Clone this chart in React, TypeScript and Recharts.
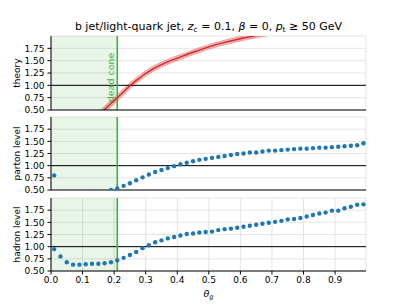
import React from 'react';
import {
  ComposedChart, Line, Area, Scatter, XAxis, YAxis, CartesianGrid,
  ReferenceLine, ReferenceArea,
} from 'recharts';

// ---------- data ----------
const xTicks = [0, 0.1, 0.2, 0.3, 0.4, 0.5, 0.6, 0.7, 0.8, 0.9];
const yTicks = [0.5, 0.75, 1.0, 1.25, 1.5, 1.75];
const deadCone = 0.21;

const theoryTheta = [0.125, 0.15, 0.175, 0.2, 0.225, 0.25, 0.275, 0.3, 0.325, 0.35, 0.375, 0.4, 0.45, 0.5, 0.55, 0.6, 0.65, 0.7];
const theoryValue = [0.22, 0.38, 0.54, 0.69, 0.84, 0.99, 1.12, 1.24, 1.34, 1.42, 1.49, 1.55, 1.67, 1.78, 1.87, 1.945, 2.01, 2.07];
const theoryErr = [0.078, 0.075, 0.072, 0.068, 0.065, 0.062, 0.06, 0.058, 0.056, 0.055, 0.054, 0.053, 0.052, 0.05, 0.05, 0.05, 0.05, 0.05];

const partonTheta = [0.01, 0.19, 0.21, 0.23, 0.25, 0.27, 0.29, 0.31, 0.33, 0.35, 0.37, 0.39, 0.41, 0.43, 0.45, 0.47, 0.49, 0.51, 0.53, 0.55, 0.57, 0.59, 0.61, 0.63, 0.65, 0.67, 0.69, 0.71, 0.73, 0.75, 0.77, 0.79, 0.81, 0.83, 0.85, 0.87, 0.89, 0.91, 0.93, 0.95, 0.97, 0.99];
const partonValue = [0.8, 0.5, 0.53, 0.585, 0.64, 0.7, 0.76, 0.82, 0.87, 0.91, 0.95, 0.99, 1.03, 1.06, 1.09, 1.12, 1.14, 1.16, 1.18, 1.2, 1.22, 1.24, 1.25, 1.27, 1.27, 1.29, 1.31, 1.31, 1.32, 1.33, 1.34, 1.35, 1.35, 1.36, 1.37, 1.37, 1.38, 1.39, 1.4, 1.41, 1.42, 1.46];

const hadronTheta = [0.01, 0.03, 0.05, 0.07, 0.09, 0.11, 0.13, 0.15, 0.17, 0.19, 0.21, 0.23, 0.25, 0.27, 0.29, 0.31, 0.33, 0.35, 0.37, 0.39, 0.41, 0.43, 0.45, 0.47, 0.49, 0.51, 0.53, 0.55, 0.57, 0.59, 0.61, 0.63, 0.65, 0.67, 0.69, 0.71, 0.73, 0.75, 0.77, 0.79, 0.81, 0.83, 0.85, 0.87, 0.89, 0.91, 0.93, 0.95, 0.97, 0.99];
const hadronValue = [0.95, 0.8, 0.68, 0.63, 0.63, 0.64, 0.65, 0.65, 0.66, 0.68, 0.72, 0.77, 0.83, 0.89, 0.97, 1.03, 1.09, 1.13, 1.17, 1.2, 1.23, 1.26, 1.27, 1.29, 1.3, 1.31, 1.34, 1.36, 1.37, 1.39, 1.41, 1.43, 1.45, 1.47, 1.49, 1.51, 1.53, 1.56, 1.57, 1.59, 1.62, 1.65, 1.68, 1.7, 1.74, 1.74, 1.79, 1.82, 1.86, 1.87];

const theoryData = theoryTheta.map((t, i) => ({
  x: t,
  y: theoryValue[i],
  lo: theoryValue[i] - theoryErr[i],
  hi: theoryValue[i] + theoryErr[i],
}));
const partonData = partonTheta.map((t, i) => ({ x: t, y: partonValue[i] }));
const hadronData = hadronTheta.map((t, i) => ({ x: t, y: hadronValue[i] }));

// ---------- style ----------
const FONT = 'DejaVu Sans';
const W = 407;
const BLUE = '#1f77b4';
const RED = '#d62728';
const GREEN = '#3cb43c';
const tickStyle = { fill: '#000', fontSize: 9, fontFamily: FONT };

const Dot = (props: any) => {
  const { cx, cy } = props;
  if (cx == null || cy == null) return null;
  return <circle cx={cx} cy={cy} r={2.2} fill={BLUE} />;
};

const DeadConeLabel = (props: any) => {
  const vb = props.viewBox || {};
  const x = (vb.x ?? 0) - 3;
  const y = (vb.y ?? 0) + (vb.height ?? 0) * 0.56;
  return (
    <text
      x={x}
      y={y}
      transform={`rotate(-90 ${x} ${y})`}
      textAnchor="middle"
      fill={GREEN}
      fontSize={9.5}
      fontFamily={FONT}
    >
      dead cone
    </text>
  );
};

function Panel(props: {
  height: number;
  top: number;
  bottom: number;
  showXLabels: boolean;
  children: React.ReactNode;
  data?: any[];
  label?: boolean;
}) {
  const { height, top, bottom, showXLabels, children, data, label } = props;
  return (
    <ComposedChart
      width={W}
      height={height}
      data={data}
      margin={{ top, right: 41, bottom, left: 0 }}
    >
      <CartesianGrid stroke="#dedede" strokeWidth={0.8} />
      <ReferenceArea
        x1={0}
        x2={deadCone}
        y1={0.5}
        y2={2}
        fill="#2ca02c"
        fillOpacity={0.1}
        stroke="none"
        ifOverflow="hidden"
      />
      <XAxis
        type="number"
        dataKey="x"
        domain={[0, 0.998]}
        ticks={xTicks}
        interval={0}
        allowDataOverflow
        height={showXLabels ? 22 : 5}
        tickSize={3.5}
        tickMargin={2}
        tick={showXLabels ? tickStyle : false}
        tickFormatter={(v: number) => v.toFixed(1)}
        stroke="#000"
        axisLine={{ stroke: '#000' }}
        tickLine={{ stroke: '#000' }}
      />
      <XAxis
        xAxisId="top"
        orientation="top"
        type="number"
        dataKey="x"
        domain={[0, 0.998]}
        height={0}
        tick={false}
        tickLine={false}
        axisLine={{ stroke: '#000' }}
      />
      <YAxis
        type="number"
        domain={[0.5, 2.0]}
        ticks={yTicks}
        interval={0}
        allowDataOverflow
        width={51}
        tickSize={3.5}
        tickMargin={3}
        tick={tickStyle}
        tickFormatter={(v: number) => v.toFixed(2)}
        axisLine={{ stroke: '#000' }}
        tickLine={{ stroke: '#000' }}
      />
      <YAxis
        yAxisId="right"
        orientation="right"
        type="number"
        domain={[0.5, 2.0]}
        width={0}
        tick={false}
        tickLine={false}
        axisLine={{ stroke: '#000' }}
      />
      <ReferenceLine y={1} stroke="#000" strokeWidth={1} />
      <ReferenceLine
        x={deadCone}
        stroke={GREEN}
        strokeWidth={1.6}
        label={label ? <DeadConeLabel /> : undefined}
      />
      {children}
    </ComposedChart>
  );
}

export default function App() {
  return (
    <div
      style={{
        position: 'absolute',
        left: 0,
        top: 0,
        width: W,
        height: 305,
        background: '#fff',
        fontFamily: FONT,
      }}
    >
      <div style={{ position: 'absolute', left: 0, top: 0 }}>
        <Panel height={115} top={36} bottom={0} showXLabels={false} data={theoryData} label>
          <Area
            type="monotone"
            dataKey={(d: any) => [d.lo, d.hi]}
            stroke={RED}
            strokeOpacity={0.3}
            strokeWidth={0.8}
            fill={RED}
            fillOpacity={0.35}
            dot={false}
            activeDot={false}
            isAnimationActive={false}
          />
          <Line
            type="monotone"
            dataKey="y"
            stroke={RED}
            strokeWidth={1.4}
            dot={false}
            isAnimationActive={false}
          />
        </Panel>
      </div>
      <div style={{ position: 'absolute', left: 0, top: 110 }}>
        <Panel height={85} top={7} bottom={0} showXLabels={false}>
          <Scatter data={partonData} dataKey="y" shape={<Dot />} isAnimationActive={false} />
        </Panel>
      </div>
      <div style={{ position: 'absolute', left: 0, top: 190 }}>
        <Panel height={115} top={8} bottom={12} showXLabels>
          <Scatter data={hadronData} dataKey="y" shape={<Dot />} isAnimationActive={false} />
        </Panel>
      </div>
      <svg
        width={W}
        height={305}
        style={{ position: 'absolute', left: 0, top: 0, pointerEvents: 'none' }}
      >
        <text x={208.5} y={30} textAnchor="middle" fontSize={11} fontFamily={FONT} fill="#000">
          <tspan>b jet/light-quark jet, </tspan>
          <tspan fontStyle="italic">z</tspan>
          <tspan fontSize={7.5} dy={2}>c</tspan>
          <tspan dy={-2}> = 0.1, </tspan>
          <tspan fontStyle="italic">β</tspan>
          <tspan> = 0, </tspan>
          <tspan fontStyle="italic">p</tspan>
          <tspan fontSize={7.5} dy={2}>t</tspan>
          <tspan dy={-2}> ≥ 50 GeV</tspan>
        </text>
        <text x={20} y={73} transform="rotate(-90 20 73)" textAnchor="middle" fontSize={9} fontFamily={FONT} fill="#000">
          theory
        </text>
        <text x={20} y={153.5} transform="rotate(-90 20 153.5)" textAnchor="middle" fontSize={9} fontFamily={FONT} fill="#000">
          parton level
        </text>
        <text x={20} y={234.5} transform="rotate(-90 20 234.5)" textAnchor="middle" fontSize={9} fontFamily={FONT} fill="#000">
          hadron level
        </text>
        <text x={208.5} y={297} textAnchor="middle" fontSize={9.5} fontFamily={FONT} fill="#000">
          <tspan fontStyle="italic">θ</tspan>
          <tspan fontSize={6.5} fontStyle="italic" dy={2}>g</tspan>
        </text>
      </svg>
    </div>
  );
}
